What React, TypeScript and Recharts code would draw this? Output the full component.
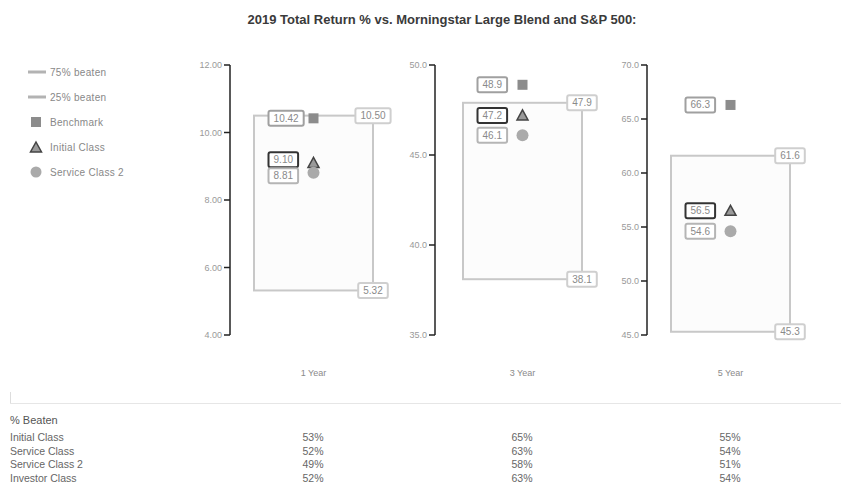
import { ComposedChart, Bar, Scatter, XAxis, YAxis } from 'recharts';

// values
const periods = ['1 Year', '3 Year', '5 Year'];
const beaten75 = [10.5, 47.9, 61.6];
const beaten25 = [5.32, 38.1, 45.3];
const benchmark = [10.42, 48.9, 66.3];
const initialClass = [9.1, 47.2, 56.5];
const serviceClass2 = [8.81, 46.1, 54.6];
const axisTicks = [
  [4, 6, 8, 10, 12],
  [35, 40, 45, 50],
  [45, 50, 55, 60, 65, 70],
];
const tickDigits = [2, 1, 1];

const tableClasses = ['Initial Class', 'Service Class', 'Service Class 2', 'Investor Class'];
const pctBeaten = [
  [53, 65, 55],
  [52, 63, 54],
  [49, 58, 51],
  [52, 63, 54],
];

const legendItems = ['75% beaten', '25% beaten', 'Benchmark', 'Initial Class', 'Service Class 2'];

// layout
const PLOT_TOP = 65;
const PLOT_H = 270;
const AXIS_W = 60;
const axisX = [230, 435, 647];
const plotW = [167, 175, 167];
const LABEL_H = 15;

const textW = (s: string) => {
  let w = 0;
  for (const c of s) w += c === '.' ? 2.8 : 5.6;
  return w + 10;
};

const LabelBox = ({ x, y, text, stroke, anchor }: any) => {
  const w = textW(text);
  const left = anchor === 'center' ? x - w / 2 : x;
  return (
    <g>
      <rect x={left} y={y - LABEL_H / 2} width={w} height={LABEL_H} rx={2} fill="#fff" stroke={stroke} strokeWidth={2} />
      <text x={left + w / 2} y={y + 3.5} textAnchor="middle" fontSize={10} fill="#8a8a8a">
        {text}
      </text>
    </g>
  );
};

// push overlapping label boxes apart
const labelShifts = (vals: number[], min: number, max: number) => {
  const ys = vals.map((v) => PLOT_TOP + ((max - v) / (max - min)) * PLOT_H);
  const shifts = vals.map(() => 0);
  const order = ys.map((y, i) => i).sort((a, b) => ys[a] - ys[b]);
  for (let k = 1; k < order.length; k++) {
    const a = order[k - 1];
    const b = order[k];
    const gap = ys[b] + shifts[b] - (ys[a] + shifts[a]);
    if (gap < LABEL_H + 1) {
      const d = (LABEL_H + 1 - gap) / 2;
      shifts[a] -= d;
      shifts[b] += d;
    }
  }
  return shifts;
};

const Panel = ({ i }: { i: number }) => {
  const ticks = axisTicks[i];
  const min = ticks[0];
  const max = ticks[ticks.length - 1];
  const digits = tickDigits[i];
  const data = [
    {
      name: periods[i],
      range: [beaten25[i], beaten75[i]],
      benchmark: benchmark[i],
      initial: initialClass[i],
      service2: serviceClass2[i],
    },
  ];
  const shifts = labelShifts([benchmark[i], initialClass[i], serviceClass2[i]], min, max);

  const BoxShape = (p: any) => {
    const { x, y, width, height } = p;
    return (
      <g>
        <rect x={x} y={y} width={width} height={height} fill="#fcfcfc" stroke="#c8c8c8" strokeWidth={2} />
        <LabelBox x={x + width} y={y} text={beaten75[i].toFixed(digits)} stroke="#cfcfcf" anchor="center" />
        <LabelBox x={x + width} y={y + height} text={beaten25[i].toFixed(digits)} stroke="#cfcfcf" anchor="center" />
      </g>
    );
  };

  const pointShape = (kind: string, value: number, shift: number, stroke: string) => (p: any) => {
    const { cx, cy } = p;
    let mark;
    if (kind === 'square') mark = <rect x={cx - 5} y={cy - 5} width={10} height={10} fill="#8c8c8c" />;
    else if (kind === 'triangle')
      mark = (
        <path
          d={`M${cx},${cy - 5.5} L${cx + 5.5},${cy + 4.5} L${cx - 5.5},${cy + 4.5} Z`}
          fill="#9a9a9a"
          stroke="#444"
          strokeWidth={1.5}
        />
      );
    else mark = <circle cx={cx} cy={cy} r={6} fill="#aaaaaa" />;
    return (
      <g>
        <LabelBox x={cx - 45} y={cy + shift} text={value.toFixed(digits)} stroke={stroke} anchor="left" />
        {mark}
      </g>
    );
  };

  return (
    <div style={{ position: 'absolute', left: axisX[i] - AXIS_W, top: 0 }}>
      <ComposedChart
        width={AXIS_W + plotW[i]}
        height={PLOT_TOP + PLOT_H + 50}
        data={data}
        margin={{ top: PLOT_TOP, right: 0, bottom: 0, left: 0 }}
      >
        <XAxis
          dataKey="name"
          type="category"
          axisLine={false}
          tickLine={false}
          tickSize={0}
          tickMargin={35}
          height={50}
          tick={{ fill: '#8a8a8a', fontSize: 9 }}
        />
        <YAxis
          type="number"
          domain={[min, max]}
          ticks={ticks}
          interval={0}
          width={AXIS_W}
          tickFormatter={(v: number) => v.toFixed(digits)}
          axisLine={{ stroke: '#222', strokeWidth: 1.5 }}
          tickLine={{ stroke: '#222', strokeWidth: 1.5 }}
          tickSize={6}
          tickMargin={2}
          tick={{ fill: '#999', fontSize: 9 }}
        />
        <Bar dataKey="range" barSize={119} shape={BoxShape} isAnimationActive={false} />
        <Scatter dataKey="benchmark" shape={pointShape('square', benchmark[i], shifts[0], '#a0a0a0')} isAnimationActive={false} />
        <Scatter dataKey="initial" shape={pointShape('triangle', initialClass[i], shifts[1], '#333')} isAnimationActive={false} />
        <Scatter dataKey="service2" shape={pointShape('circle', serviceClass2[i], shifts[2], '#b5b5b5')} isAnimationActive={false} />
      </ComposedChart>
    </div>
  );
};

const LegendIcon = ({ idx }: { idx: number }) => (
  <svg width={20} height={14} style={{ display: 'block' }}>
    {idx < 2 && <rect x={0} y={5.5} width={18} height={3} fill="#b3b3b3" />}
    {idx === 2 && <rect x={3} y={2} width={10} height={10} fill="#8c8c8c" />}
    {idx === 3 && <path d="M8,2 L13.5,12 L2.5,12 Z" fill="#9a9a9a" stroke="#444" strokeWidth={1.5} />}
    {idx === 4 && <circle cx={8} cy={7} r={5.5} fill="#aaaaaa" />}
  </svg>
);

const colCenters = [313, 522, 730];

export default function App() {
  return (
    <div
      style={{
        position: 'relative',
        width: 841,
        height: 486,
        background: '#fff',
        fontFamily: '"Liberation Sans", Arial, sans-serif',
        overflow: 'hidden',
      }}
    >
      <style>{'body{margin:0}'}</style>
      <div
        style={{
          position: 'absolute',
          left: 442,
          top: 12,
          transform: 'translateX(-50%)',
          whiteSpace: 'nowrap',
          fontSize: 13,
          fontWeight: 'bold',
          color: '#3a3a3a',
        }}
      >
        2019 Total Return % vs. Morningstar Large Blend and S&amp;P 500:
      </div>

      {legendItems.map((name, k) => (
        <div
          key={name}
          style={{ position: 'absolute', left: 28, top: 65 + k * 25, display: 'flex', alignItems: 'center', height: 14 }}
        >
          <LegendIcon idx={k} />
          <span style={{ marginLeft: 2, fontSize: 10, color: '#888', letterSpacing: 0.3 }}>{name}</span>
        </div>
      ))}

      {periods.map((p, i) => (
        <Panel key={p} i={i} />
      ))}

      <div style={{ position: 'absolute', left: 10, top: 392, width: 1, height: 11, background: '#ddd' }} />
      <div style={{ position: 'absolute', left: 10, top: 403, width: 831, height: 1, background: '#e6e6e6' }} />

      <div style={{ position: 'absolute', left: 10, top: 414, fontSize: 11, color: '#555' }}>% Beaten</div>
      {tableClasses.map((c, r) => (
        <div key={c}>
          <div style={{ position: 'absolute', left: 10, top: 431 + r * 13.5, fontSize: 10.5, color: '#666', whiteSpace: 'nowrap' }}>
            {c}
          </div>
          {pctBeaten[r].map((v, j) => (
            <div
              key={j}
              style={{
                position: 'absolute',
                left: colCenters[j],
                top: 431 + r * 13.5,
                transform: 'translateX(-50%)',
                fontSize: 10.5,
                color: '#666',
              }}
            >
              {v}%
            </div>
          ))}
        </div>
      ))}
    </div>
  );
}
